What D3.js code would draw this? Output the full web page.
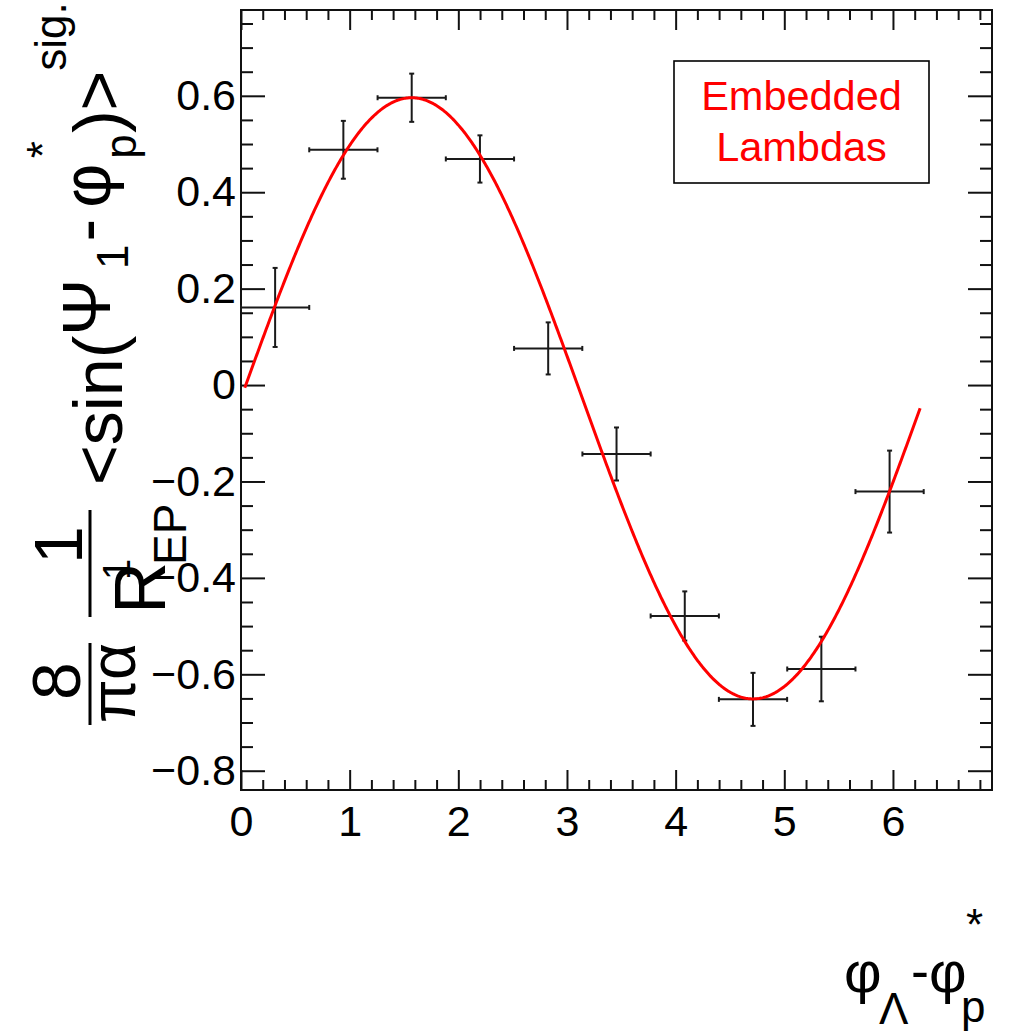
<!DOCTYPE html>
<html>
<head>
<meta charset="utf-8">
<script src="https://cdn.jsdelivr.net/npm/d3@7"></script>
<style>
  html, body { margin: 0; padding: 0; background: #fff; }
  svg { display: block; }
  text { font-family: "Liberation Sans", Arial, Helvetica, sans-serif; }
</style>
</head>
<body>
<svg id="chart" width="1013" height="1034"></svg>
<script>
// ---------------- data ----------------
const binCenters   = [0.314, 0.942, 1.571, 2.199, 2.827, 3.456, 4.084, 4.712, 5.341, 5.969];
const binHalfWidth = [0.314, 0.314, 0.314, 0.314, 0.314, 0.314, 0.314, 0.314, 0.314, 0.314];
const sigValues    = [0.161, 0.488, 0.596, 0.469, 0.076, -0.143, -0.479, -0.652, -0.589, -0.221];
const sigErrors    = [0.082, 0.060, 0.050, 0.049, 0.054, 0.055, 0.051, 0.055, 0.067, 0.085];
// fit: p0 + p1 * sin(x), drawn over fitRange
const fitParams    = [-0.0275, 0.6235];
const fitRange     = [0.035, 6.25];
const xMajorTicks  = [0, 1, 2, 3, 4, 5, 6];
const yMajorTicks  = [-0.8, -0.6, -0.4, -0.2, 0, 0.2, 0.4, 0.6];
const yTickLabels  = ["\u22120.8", "\u22120.6", "\u22120.4", "\u22120.2", "0", "0.2", "0.4", "0.6"];
const legendLines  = ["Embedded", "Lambdas"];
const xDomain = [0, 6.9115];
const yDomain = [-0.840, 0.778];

// ---------------- layout ----------------
const svg = d3.select("#chart");
const L = 241, R = 992, T = 10, B = 790;
const x = d3.scaleLinear().domain(xDomain).range([L, R]);
const y = d3.scaleLinear().domain(yDomain).range([B, T]);

const xMinor = d3.range(0, 6.9, 0.2).map(v => +v.toFixed(2)).filter(v => !xMajorTicks.includes(v));
const yMinor = d3.range(-0.8, 0.78, 0.05).map(v => +v.toFixed(2)).filter(v => !yMajorTicks.some(m => Math.abs(m - v) < 1e-6));

function styleAxis(g) {
  g.select(".domain").remove();
  g.selectAll(".tick line").attr("stroke", "#111").attr("stroke-width", 2);
}

// bottom axis
svg.append("g").attr("transform", `translate(0,${B})`)
  .call(d3.axisBottom(x).tickValues(xMajorTicks).tickSizeInner(-20).tickSizeOuter(0).tickPadding(15)
        .tickFormat(d3.format("d")))
  .call(styleAxis)
  .call(g => g.selectAll("text").attr("font-size", 43).attr("fill", "#000")
        .attr("font-family", "Liberation Sans, Arial, sans-serif"));
svg.append("g").attr("transform", `translate(0,${B})`)
  .call(d3.axisBottom(x).tickValues(xMinor).tickSizeInner(-10).tickSizeOuter(0).tickFormat(""))
  .call(styleAxis);
// top axis (mirror ticks)
svg.append("g").attr("transform", `translate(0,${T})`)
  .call(d3.axisTop(x).tickValues(xMajorTicks).tickSizeInner(-20).tickSizeOuter(0).tickFormat(""))
  .call(styleAxis);
svg.append("g").attr("transform", `translate(0,${T})`)
  .call(d3.axisTop(x).tickValues(xMinor).tickSizeInner(-10).tickSizeOuter(0).tickFormat(""))
  .call(styleAxis);

// left axis
svg.append("g").attr("transform", `translate(${L},0)`)
  .call(d3.axisLeft(y).tickValues(yMajorTicks).tickSizeInner(-24).tickSizeOuter(0).tickPadding(5)
        .tickFormat((d, i) => yTickLabels[i]))
  .call(styleAxis)
  .call(g => g.selectAll("text").attr("font-size", 43).attr("fill", "#000")
        .attr("font-family", "Liberation Sans, Arial, sans-serif"));
svg.append("g").attr("transform", `translate(${L},0)`)
  .call(d3.axisLeft(y).tickValues(yMinor).tickSizeInner(-12).tickSizeOuter(0).tickFormat(""))
  .call(styleAxis);
// right axis (mirror ticks)
svg.append("g").attr("transform", `translate(${R},0)`)
  .call(d3.axisRight(y).tickValues(yMajorTicks).tickSizeInner(-24).tickSizeOuter(0).tickFormat(""))
  .call(styleAxis);
svg.append("g").attr("transform", `translate(${R},0)`)
  .call(d3.axisRight(y).tickValues(yMinor).tickSizeInner(-12).tickSizeOuter(0).tickFormat(""))
  .call(styleAxis);

// frame
svg.append("rect").attr("x", L).attr("y", T).attr("width", R - L).attr("height", B - T)
  .attr("fill", "none").attr("stroke", "#111").attr("stroke-width", 2);

// ---------------- error bars ----------------
const pts = binCenters.map((c, i) => ({ c, hw: binHalfWidth[i], v: sigValues[i], e: sigErrors[i] }));
const eb = svg.append("g").attr("stroke", "#1a1a1a").attr("stroke-width", 2).attr("fill", "none");
const cap = 2.5;
pts.forEach(p => {
  const g = eb.append("g");
  g.append("line").attr("x1", x(p.c - p.hw)).attr("x2", x(p.c + p.hw)).attr("y1", y(p.v)).attr("y2", y(p.v));
  g.append("line").attr("x1", x(p.c - p.hw)).attr("x2", x(p.c - p.hw)).attr("y1", y(p.v) - cap).attr("y2", y(p.v) + cap);
  g.append("line").attr("x1", x(p.c + p.hw)).attr("x2", x(p.c + p.hw)).attr("y1", y(p.v) - cap).attr("y2", y(p.v) + cap);
  g.append("line").attr("x1", x(p.c)).attr("x2", x(p.c)).attr("y1", y(p.v - p.e)).attr("y2", y(p.v + p.e));
  g.append("line").attr("x1", x(p.c) - cap).attr("x2", x(p.c) + cap).attr("y1", y(p.v - p.e)).attr("y2", y(p.v - p.e));
  g.append("line").attr("x1", x(p.c) - cap).attr("x2", x(p.c) + cap).attr("y1", y(p.v + p.e)).attr("y2", y(p.v + p.e));
});

// ---------------- fit curve ----------------
const fitX = d3.range(fitRange[0], fitRange[1], 0.01).concat([fitRange[1]]);
const fitLine = d3.line().x(d => x(d)).y(d => y(fitParams[0] + fitParams[1] * Math.sin(d)));
svg.append("path").datum(fitX).attr("d", fitLine)
  .attr("fill", "none").attr("stroke", "#ff0000").attr("stroke-width", 3);

// ---------------- legend ----------------
svg.append("rect").attr("x", 674).attr("y", 61).attr("width", 255).attr("height", 122)
  .attr("fill", "#fff").attr("stroke", "#000").attr("stroke-width", 1.6);
svg.selectAll(".leg").data(legendLines).enter().append("text")
  .attr("x", 801.5).attr("y", (d, i) => 110 + i * 51)
  .attr("text-anchor", "middle").attr("font-size", 41.5).attr("fill", "#ff0000").text(d => d);

// ---------------- x axis title ----------------
const xt = svg.append("g").attr("fill", "#000");
xt.append("text").attr("x", 844).attr("y", 992).attr("font-size", 58).text("\u03c6");
xt.append("text").attr("x", 879).attr("y", 1024).attr("font-size", 44).text("\u039b");
xt.append("text").attr("x", 911).attr("y", 989).attr("font-size", 54).text("-");
xt.append("text").attr("x", 929).attr("y", 992).attr("font-size", 58).text("\u03c6");
xt.append("text").attr("x", 961).attr("y", 1022).attr("font-size", 44).text("p");
xt.append("text").attr("x", 966).attr("y", 940).attr("font-size", 44).text("*");

// ---------------- y axis title (rotated) ----------------
const yt = svg.append("g").attr("transform", "rotate(-90)").attr("fill", "#000");
// fraction 8 / πα
yt.append("text").attr("x", -681).attr("y", 80).attr("text-anchor", "middle").attr("font-size", 68).text("8");
yt.append("text").attr("x", -683).attr("y", 135).attr("text-anchor", "middle").attr("font-size", 64).text("\u03c0\u03b1");
svg.append("line").attr("x1", 90).attr("x2", 90).attr("y1", 643).attr("y2", 725).attr("stroke", "#000").attr("stroke-width", 3);
// fraction 1 / R^1_EP
yt.append("text").attr("x", -545).attr("y", 82).attr("text-anchor", "middle").attr("font-size", 68).text("1");
svg.append("line").attr("x1", 90).attr("x2", 90).attr("y1", 510).attr("y2", 617).attr("stroke", "#000").attr("stroke-width", 3);
yt.append("text").attr("x", -614).attr("y", 165).attr("font-size", 72).text("R");
yt.append("text").attr("x", -580).attr("y", 130).attr("font-size", 38).text("1");
yt.append("text").attr("x", -565).attr("y", 186).attr("font-size", 46).text("EP");
// <sin(Ψ_1 - φ*_p)>^sig.
const mt = yt.append("text").attr("x", -485).attr("y", 122).attr("font-size", 68);
mt.append("tspan").text("<sin(");
mt.append("tspan").attr("dy", -12).text("\u03a8");
mt.append("tspan").attr("dy", 18).attr("dx", 10).attr("font-size", 44).text("1");
mt.append("tspan").attr("dy", -18).attr("dx", 3).text("-");
mt.append("tspan").attr("dx", 11).text("\u03c6");
mt.append("tspan").attr("dy", 26).attr("dx", 5).attr("font-size", 44).text("p");
mt.append("tspan").attr("dy", -78).attr("dx", -24).attr("font-size", 44).text("*");
mt.append("tspan").attr("dy", 64).attr("dx", 8).text(")>");
mt.append("tspan").attr("dy", -56).attr("font-size", 44).text("sig.");
</script>
</body>
</html>
